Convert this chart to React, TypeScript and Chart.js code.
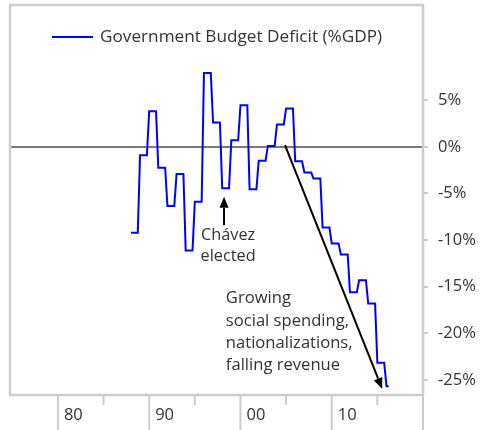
import React, { useEffect, useRef } from 'react';
import { Chart, registerables } from 'chart.js';

Chart.register(...registerables);

// ---- Data ----
const years = [
  1988, 1989, 1990, 1991, 1992, 1993, 1994, 1995, 1996, 1997,
  1998, 1999, 2000, 2001, 2002, 2003, 2004, 2005, 2006, 2007,
  2008, 2009, 2010, 2011, 2012, 2013, 2014, 2015, 2016,
];
const deficit = [
  -9.2, -0.9, 3.8, -2.25, -6.35, -2.9, -11.1, -5.9, 7.9, 2.6,
  -4.45, 0.7, 4.45, -4.55, -1.5, 0.1, 2.4, 4.1, -1.55, -2.75,
  -3.4, -8.65, -10.35, -11.55, -15.6, -14.3, -16.8, -23.15, -25.65,
];
const quartersPerYear = 4;
const lastYearQuarters = 2;

const seriesLabel = 'Government Budget Deficit (%GDP)';
const yTickValues = [5, 0, -5, -10, -15, -20, -25];
const xDecadeTicks = [1980, 1990, 2000, 2010, 2020];
const xDecadeLabels = ['80', '90', '00', '10', ''];
const xMinorTicks = [1985, 1995, 2005, 2015];

const chavezLines = ['Chávez', 'elected'];
const spendingLines = ['Growing', 'social spending,', 'nationalizations,', 'falling revenue'];

// annotation anchors in data space
const chavezArrow = { x: 1998.2, from: -8.4, to: -5.35 };
const chavezText = { x: 1998.65, y: [-9.46, -11.79] };
const spendingArrow = { x1: 2004.88, y1: 0.18, x2: 2015.53, y2: -25.95 };
const spendingText = { x: 1998.4, y: [-16.24, -18.75, -21.07, -23.39] };

// ---- build quarterly step points from the annual values ----
const points: { x: number; y: number }[] = [];
years.forEach((yr, i) => {
  const n = i === years.length - 1 ? lastYearQuarters : quartersPerYear;
  for (let q = 0; q < n; q++) points.push({ x: yr + q / quartersPerYear, y: deficit[i] });
});

const FONT = '"Open Sans", sans-serif';
const TEXT = '#333333';
const GRAY = '#cccccc';

function drawArrow(ctx: CanvasRenderingContext2D, x1: number, y1: number, x2: number, y2: number) {
  const ang = Math.atan2(y2 - y1, x2 - x1);
  const len = 11;
  const hw = 4.5;
  const bx = x2 - len * Math.cos(ang);
  const by = y2 - len * Math.sin(ang);
  ctx.beginPath();
  ctx.moveTo(x1, y1);
  ctx.lineTo(bx, by);
  ctx.strokeStyle = '#000';
  ctx.lineWidth = 2;
  ctx.stroke();
  ctx.beginPath();
  ctx.moveTo(x2, y2);
  ctx.lineTo(bx + hw * Math.sin(ang), by - hw * Math.cos(ang));
  ctx.lineTo(bx - hw * Math.sin(ang), by + hw * Math.cos(ang));
  ctx.closePath();
  ctx.fillStyle = '#000';
  ctx.fill();
}

const decorPlugin = {
  id: 'decor',
  afterDraw(chart: any) {
    const ctx: CanvasRenderingContext2D = chart.ctx;
    const ca = chart.chartArea;
    const xs = chart.scales.x;
    const ys = chart.scales.y;
    ctx.save();

    // plot box
    ctx.strokeStyle = GRAY;
    ctx.lineWidth = 2.5;
    ctx.strokeRect(ca.left, ca.top, ca.right - ca.left, ca.bottom - ca.top);

    // x axis ticks and labels
    ctx.lineWidth = 2;
    xDecadeTicks.forEach((t, i) => {
      const px = xs.getPixelForValue(t);
      ctx.beginPath();
      ctx.moveTo(px, ca.bottom);
      ctx.lineTo(px, chart.height);
      ctx.strokeStyle = GRAY;
      ctx.stroke();
      ctx.fillStyle = TEXT;
      ctx.font = `16.5px ${FONT}`;
      ctx.textAlign = 'left';
      ctx.textBaseline = 'middle';
      ctx.fillText(xDecadeLabels[i], px + 6, ca.bottom + 20);
    });
    xMinorTicks.forEach((t) => {
      const px = xs.getPixelForValue(t);
      ctx.beginPath();
      ctx.moveTo(px, ca.bottom);
      ctx.lineTo(px, ca.bottom + 10);
      ctx.strokeStyle = GRAY;
      ctx.stroke();
    });

    // legend
    ctx.beginPath();
    ctx.moveTo(ca.left + 42, ca.top + 32);
    ctx.lineTo(ca.left + 83, ca.top + 32);
    ctx.strokeStyle = '#0000ff';
    ctx.lineWidth = 2;
    ctx.stroke();
    ctx.fillStyle = TEXT;
    ctx.font = `17.2px ${FONT}`;
    ctx.textAlign = 'left';
    ctx.textBaseline = 'middle';
    ctx.fillText(seriesLabel, ca.left + 90, ca.top + 32);

    // Chávez annotation
    const cx = xs.getPixelForValue(chavezArrow.x);
    drawArrow(ctx, cx, ys.getPixelForValue(chavezArrow.from), cx, ys.getPixelForValue(chavezArrow.to));
    ctx.fillStyle = TEXT;
    ctx.font = `16.3px ${FONT}`;
    ctx.textAlign = 'center';
    chavezLines.forEach((s, i) => {
      ctx.fillText(s, xs.getPixelForValue(chavezText.x), ys.getPixelForValue(chavezText.y[i]));
    });

    // spending annotation
    drawArrow(
      ctx,
      xs.getPixelForValue(spendingArrow.x1),
      ys.getPixelForValue(spendingArrow.y1),
      xs.getPixelForValue(spendingArrow.x2),
      ys.getPixelForValue(spendingArrow.y2)
    );
    ctx.textAlign = 'left';
    ctx.fillStyle = TEXT;
    ctx.font = `16.6px ${FONT}`;
    spendingLines.forEach((s, i) => {
      ctx.fillText(s, xs.getPixelForValue(spendingText.x), ys.getPixelForValue(spendingText.y[i]));
    });

    ctx.restore();
  },
};

export default function App() {
  const ref = useRef<HTMLCanvasElement | null>(null);
  useEffect(() => {
    if (!ref.current) return;
    const chart = new Chart(ref.current, {
      type: 'line',
      data: {
        datasets: [
          {
            label: seriesLabel,
            data: points,
            borderColor: '#0000ff',
            borderWidth: 2,
            pointRadius: 0,
            tension: 0,
            fill: false,
          },
        ],
      },
      options: {
        animation: false,
        responsive: false,
        devicePixelRatio: 1,
        layout: { padding: { left: 10, top: 5, bottom: 35, right: 0 } },
        plugins: { legend: { display: false }, tooltip: { enabled: false } },
        scales: {
          x: { type: 'linear', min: 1974.75, max: 2020, display: false },
          y: {
            type: 'linear',
            position: 'right',
            min: -26.6,
            max: 15.2,
            afterBuildTicks: (axis: any) => {
              axis.ticks = yTickValues.map((v) => ({ value: v }));
            },
            afterFit: (axis: any) => {
              axis.width = 62;
              axis.paddingTop = 0;
              axis.paddingBottom = 0;
            },
            border: { display: false },
            grid: {
              color: (c: any) => (c.tick && c.tick.value === 0 ? '#7a7a7a' : 'rgba(0,0,0,0)'),
              lineWidth: 2,
              drawTicks: true,
              tickLength: 5,
              tickColor: GRAY,
              tickWidth: 2,
            },
            ticks: {
              callback: (v: any) => `${v}%`,
              color: TEXT,
              padding: 10,
              font: { family: FONT, size: 16.5 },
            },
          },
        },
      },
      plugins: [decorPlugin],
    });
    return () => chart.destroy();
  }, []);
  return (
    <div style={{ position: 'fixed', left: 0, top: 0, width: 485, height: 430, background: '#fff' }}>
      <canvas ref={ref} width={485} height={430} style={{ display: 'block' }} />
    </div>
  );
}
